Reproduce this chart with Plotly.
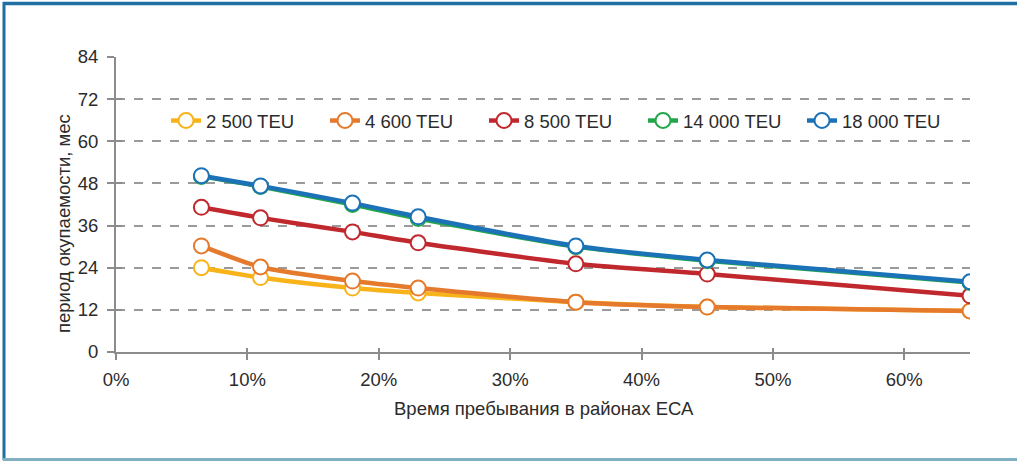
import plotly.graph_objects as go

x_share = [0.065, 0.11, 0.18, 0.23, 0.35, 0.45, 0.65]
series_names = ["2 500 TEU", "4 600 TEU", "8 500 TEU", "14 000 TEU", "18 000 TEU"]
teu_2500 = [24.0, 21.2, 18.2, 16.8, 14.2, 12.8, 11.7]
teu_4600 = [30.2, 24.2, 20.2, 18.2, 14.2, 12.8, 11.7]
teu_8500 = [41.2, 38.2, 34.2, 31.1, 25.1, 22.2, 16.0]
teu_14000 = [50.0, 47.1, 42.0, 38.0, 30.0, 26.0, 19.8]
teu_18000 = [50.2, 47.3, 42.4, 38.5, 30.2, 26.2, 20.0]
y_ticks = [0, 12, 24, 36, 48, 60, 72, 84]
x_ticks = [0, 0.1, 0.2, 0.3, 0.4, 0.5, 0.6]
x_tick_labels = ["0%", "10%", "20%", "30%", "40%", "50%", "60%"]
x_title = "Время пребывания в районах ЕСА"
y_title = "период окупаемости, мес"

colors = ["#F8B31A", "#E57A2C", "#C0282E", "#22A64B", "#1C72B6"]
series = [teu_2500, teu_4600, teu_8500, teu_14000, teu_18000]

FONT = "Liberation Sans Narrow, Arial Narrow, Liberation Sans, Arial, sans-serif"

fig = go.Figure()
for name, vals, col in zip(series_names, series, colors):
    fig.add_trace(go.Scatter(
        x=x_share, y=vals, name=name, mode="lines+markers",
        line=dict(color=col, width=4.5, shape="spline", smoothing=0.6),
        marker=dict(size=15, color="white", line=dict(color=col, width=2)),
    ))

# secondary overlay axis to give crossing tick marks
fig.add_trace(go.Scatter(x=[None], y=[None], xaxis="x2", yaxis="y2", showlegend=False))

L, R, T, B = 116, 47, 57, 110
W, H = 1017, 462
pw = W - L - R
ph = H - T - B

def px_x(p):
    return (p - L) / pw

def px_y(p):
    return (H - B - p) / ph

fig.update_layout(
    width=W, height=H,
    margin=dict(l=L, r=R, t=T, b=B, pad=0),
    paper_bgcolor="white", plot_bgcolor="white",
    font=dict(family=FONT, size=18.5, color="#2b2b2b"),
    showlegend=True,
    legend=dict(orientation="h", x=px_x(166), y=px_y(121), xanchor="left", yanchor="middle",
                font=dict(size=18.5, color="#2b2b2b"), bgcolor="rgba(255,255,255,0)",
                entrywidth=114, entrywidthmode="pixels", tracegroupgap=0),
    xaxis=dict(range=[0, 0.65], tickvals=x_ticks, ticktext=x_tick_labels,
               showgrid=False, zeroline=False, showline=True, linecolor="#8c8c8c", linewidth=2,
               ticks="outside", ticklen=6, tickcolor="#8c8c8c", tickwidth=1.5,
               ticklabelstandoff=4, tickfont=dict(size=18.5)),
    yaxis=dict(range=[0, 84], tickvals=y_ticks, showgrid=True, gridcolor="#9a9a9a",
               griddash="dash", gridwidth=1.5, zeroline=False, showline=True,
               linecolor="#8c8c8c", linewidth=2, ticks="outside", ticklen=7,
               tickcolor="#8c8c8c", tickwidth=1.5, ticklabelstandoff=5,
               tickfont=dict(size=18.5)),
    xaxis2=dict(range=[0, 0.65], overlaying="x", tickvals=x_ticks, showticklabels=False,
                ticks="inside", ticklen=4, tickcolor="#8c8c8c", tickwidth=1.5,
                showgrid=False, zeroline=False, showline=False, anchor="y2"),
    yaxis2=dict(range=[0, 84], overlaying="y", tickvals=y_ticks, showticklabels=False,
                ticks="inside", ticklen=6, tickcolor="#8c8c8c", tickwidth=1.5,
                showgrid=False, zeroline=False, showline=False, anchor="x2"),
)

fig.add_annotation(text=x_title, xref="paper", yref="paper", x=px_x(544), y=px_y(408),
                   xanchor="center", yanchor="middle", showarrow=False, font=dict(size=18.5))
fig.add_annotation(text=y_title, xref="paper", yref="paper", x=px_x(63), y=px_y(224),
                   xanchor="center", yanchor="middle", textangle=-90, showarrow=False,
                   font=dict(size=18.5))

# frame around the figure
frame = "#1F6FA3"
fig.add_shape(type="line", xref="paper", yref="paper", x0=px_x(3), x1=px_x(1020),
              y0=px_y(3.5), y1=px_y(3.5), line=dict(color=frame, width=3.5))
fig.add_shape(type="line", xref="paper", yref="paper", x0=px_x(4), x1=px_x(4),
              y0=px_y(2), y1=px_y(460), line=dict(color=frame, width=3))
fig.add_shape(type="line", xref="paper", yref="paper", x0=px_x(3), x1=px_x(1020),
              y0=px_y(459.5), y1=px_y(459.5), line=dict(color="#7FAFC0", width=3))

fig.write_html("out.html", config={"displayModeBar": False},
               post_script="document.body.style.margin='0';document.body.style.overflow='hidden';")
